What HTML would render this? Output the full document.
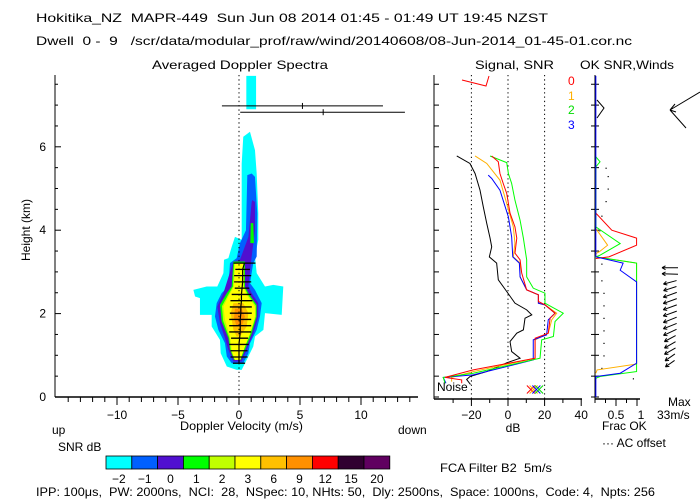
<!DOCTYPE html>
<html><head><meta charset="utf-8">
<style>
html,body{margin:0;padding:0;background:#fff;}
svg{display:block;font-family:"Liberation Sans",sans-serif;}
text{font-size:12px;fill:#000;white-space:pre;}
</style></head>
<body>
<svg id="chart" width="700" height="500" viewBox="0 0 700 500">
<text x="36" y="22" font-size="13" textLength="512" lengthAdjust="spacingAndGlyphs">Hokitika_NZ  MAPR-449  Sun Jun 08 2014 01:45 - 01:49 UT 19:45 NZST</text>
<text x="36" y="45" textLength="596" lengthAdjust="spacingAndGlyphs">Dwell  0 -  9   /scr/data/modular_prof/raw/wind/20140608/08-Jun-2014_01-45-01.cor.nc</text>
<text x="152" y="69" textLength="176" lengthAdjust="spacingAndGlyphs">Averaged Doppler Spectra</text>
<text x="475" y="69" textLength="79" lengthAdjust="spacingAndGlyphs">Signal, SNR</text>
<text x="580" y="69" textLength="94" lengthAdjust="spacingAndGlyphs">OK SNR,Winds</text>
<g id="spectra"></g>
<g id="snr"></g>
<g id="frac"></g>
<g id="cbar"></g>
<text x="30" y="230" transform="rotate(-90 30 230)" text-anchor="middle" font-size="11">Height (km)</text>
<text x="52" y="434">up</text>
<text x="180" y="430" textLength="123" lengthAdjust="spacingAndGlyphs">Doppler Velocity (m/s)</text>
<text x="398" y="434">down</text>
<text x="513" y="432" text-anchor="middle">dB</text>
<text x="602" y="430">Frac OK</text>
<text x="602" y="447">··· AC offset</text>
<text x="668" y="406">Max</text>
<text x="657" y="419">33m/s</text>
<text x="58" y="451">SNR dB</text>
<text x="440" y="472" textLength="112" lengthAdjust="spacingAndGlyphs">FCA Filter B2  5m/s</text>
<text x="36" y="496" textLength="619" lengthAdjust="spacingAndGlyphs">IPP: 100μs,  PW: 2000ns,  NCI:  28,  NSpec: 10, NHts: 50,  Dly: 2500ns,  Space: 1000ns,  Code: 4,  Npts: 256</text>
<text x="437" y="391" font-size="11">Noise</text>
<text x="568" y="85" style="fill:#ff0000" font-size="11">0</text>
<text x="568" y="100" style="fill:#ffb000" font-size="11">1</text>
<text x="568" y="114" style="fill:#00dd00" font-size="11">2</text>
<text x="568" y="129" style="fill:#0000ff" font-size="11">3</text>
</svg>
<script>
// ---------- data ----------
const velTicks = [-10,-5,0,5,10];
const hTicks = [0,2,4,6];
const dbTicks = [-20,0,20,40];
const fracTicks = [0.5,1];
const cbLabels = ["-2","-1","0","1","2","3","6","9","12","15","20"];
const cbColors = ["#00ffff","#0060ff","#5010d0","#00ff00","#c0ff00","#ffff00","#ffc000","#ff9000","#ff0000","#300030","#600060"];
// contour polygons: [velocity m/s, height km]
const cCyan = [[0.35,6.24],[0.22,5.6],[0.22,3.77],[-0.33,3.84],[-0.6,3.6],[-0.87,3.33],[-1.23,3.29],[-1.28,2.97],[-1.78,2.65],[-2.65,2.65],[-3.74,2.57],[-3.6,2.41],[-3.2,2.37],[-3.2,1.97],[-2.24,1.97],[-2.24,1.69],[-1.56,1.37],[-1.5,1.05],[-1.0,0.73],[-0.19,0.65],[0.22,0.65],[0.63,0.89],[1.17,1.21],[1.31,1.45],[2.0,1.61],[2.13,2.01],[3.5,1.97],[3.63,2.65],[2.81,2.69],[2.13,2.65],[1.45,2.97],[1.31,3.37],[1.58,3.77],[1.58,4.4],[1.45,5.36],[1.31,5.92],[0.9,6.36]];
const cCyanTop = [[0.6,6.9],[1.4,6.9],[1.4,7.7],[0.6,7.7]];
const cBlue = [[0.68,5.32],[0.57,4.0],[0.08,3.69],[-0.19,3.33],[-0.74,3.21],[-0.87,2.65],[-1.42,2.49],[-1.83,2.25],[-1.97,1.93],[-1.69,1.61],[-1.15,1.29],[-1.0,0.97],[-0.6,0.81],[0.35,0.81],[0.77,1.05],[0.9,1.29],[1.45,1.61],[1.72,1.93],[1.86,2.25],[1.31,2.57],[0.9,2.73],[1.17,3.21],[1.45,3.37],[1.5,4.4],[1.31,5.28],[1.04,5.36]];
const cPurple = [[1.04,4.68],[0.77,3.84],[0.08,3.29],[-0.46,3.25],[-1.28,2.49],[-1.78,2.17],[-1.56,1.77],[-1.15,1.41],[-0.87,1.13],[-0.46,0.85],[0.22,0.85],[0.63,1.13],[1.17,1.52],[1.58,1.93],[1.58,2.25],[1.04,2.49],[0.77,2.65],[1.04,3.37],[1.31,4.0],[1.31,4.68],[1.09,4.72]];
const cGreen = [[-0.46,3.25],[-0.6,2.65],[-1.0,2.49],[-1.56,2.21],[-1.42,1.81],[-0.87,1.41],[-0.74,1.13],[-0.41,0.89],[0.14,0.89],[0.49,1.13],[1.04,1.52],[1.45,1.93],[1.45,2.21],[0.77,2.49],[0.49,2.65],[0.49,3.25]];
const cGreenStreak = [[0.96,4.17],[1.17,4.17],[1.23,3.69],[0.93,3.69]];
const cYG = [[-0.4,3.22],[-0.5,2.65],[-0.95,2.42],[-1.4,2.18],[-1.3,1.83],[-0.8,1.42],[-0.68,1.13],[-0.37,0.9],[0.12,0.9],[0.45,1.18],[0.95,1.53],[1.38,1.93],[1.38,2.19],[0.7,2.47],[0.42,2.65],[0.42,3.22]];
const cYellow = [[-0.33,3.21],[-0.41,2.65],[-0.87,2.41],[-1.28,2.17],[-1.15,1.85],[-0.74,1.45],[-0.6,1.13],[-0.33,0.89],[0.08,0.89],[0.49,1.21],[0.9,1.52],[1.31,1.93],[1.31,2.17],[0.63,2.45],[0.35,2.65],[0.35,3.21]];
const cOrangeLt = [[-0.46,2.25],[-0.68,2.01],[-0.46,1.61],[-0.19,1.45],[0.08,1.45],[0.63,1.69],[0.77,2.01],[0.35,2.25]];
const cOrange = [[-0.33,2.12],[-0.41,1.89],[-0.19,1.69],[0.22,1.69],[0.49,1.93],[0.22,2.12]];
const cTickH = [3.21,3.06,2.91,2.76,2.61,2.46,2.31,2.16,2.01,1.86,1.71,1.56,1.41,1.26,1.11,0.96,0.81];
const cTickC = [0.45,0.3,0.3,0.3,0.25,0.2,0.2,0.15,0.15,0.1,0.1,0.1,0.05,0.0,0.0,0.0,0.0];
const cTickW = [0.9,0.6,0.7,0.7,0.6,0.8,0.9,0.9,0.9,0.9,0.9,0.9,0.7,0.8,0.7,0.7,0.5];
const errH = [6.98,6.83];
const errLo = [-1.4,0.1];
const errHi = [11.8,13.6];
const errMid = [5.2,6.9];
// SNR profiles: [dB, height km]
const snrNoise = [[-28.0,5.78],[-20.8,5.6],[-18.0,5.36],[-15.3,4.96],[-13.5,4.56],[-11.6,4.16],[-9.8,3.81],[-8.9,3.6],[-10.2,3.36],[-6.2,3.21],[-5.3,2.81],[-0.7,2.53],[3.8,2.25],[10.2,2.09],[13.0,1.97],[9.3,1.89],[8.4,1.61],[4.8,1.53],[1.1,1.33],[2.0,1.09],[6.6,0.93],[-0.7,0.82],[-11.6,0.61],[-20.8,0.49],[-22.6,0.42],[-20.5,0.3]];
const snr0 = [[-8.9,5.78],[-5.3,5.64],[-4.4,5.36],[-2.6,5.12],[-0.7,4.88],[1.1,4.41],[3.8,4.08],[4.8,3.81],[3.8,3.45],[6.6,3.29],[7.5,2.97],[10.2,2.57],[16.6,2.45],[16.6,2.29],[20.2,2.21],[25.7,2.01],[23.0,1.89],[22.0,1.53],[14.8,1.41],[14.8,0.93],[-19.0,0.65],[-34.4,0.47],[-25.3,0.41],[-25.3,0.33]];
const snr1 = [[-18.0,5.78],[-11.6,5.6],[-4.4,5.2],[-0.7,4.64],[2.9,4.08],[3.8,3.69],[2.9,3.36],[6.6,3.21],[6.6,2.88],[10.2,2.57],[16.6,2.45],[16.6,2.25],[20.2,2.21],[26.6,2.01],[23.9,1.85],[22.0,1.53],[14.8,1.37],[14.8,0.93],[-19.0,0.61],[-30.8,0.47],[-30.8,0.37]];
const snr2 = [[-9.8,5.78],[-0.7,5.62],[0.2,5.36],[2.0,5.12],[3.8,4.72],[6.6,4.24],[8.4,3.81],[10.2,3.29],[10.2,2.88],[13.8,2.61],[20.2,2.49],[20.2,2.25],[30.2,2.01],[25.7,1.81],[24.8,1.45],[18.4,1.37],[17.5,0.93],[-19.0,0.57],[-35.4,0.47],[-34.4,0.33]];
const snr3 = [[-10.8,5.32],[-8.9,5.24],[-4.4,4.96],[0.2,4.32],[2.0,3.84],[2.6,3.36],[6.2,3.21],[6.6,2.88],[10.2,2.57],[16.6,2.45],[16.6,2.25],[20.2,2.21],[25.7,2.01],[22.0,1.85],[21.1,1.49],[13.8,1.37],[13.8,0.89],[-19.0,0.53],[-35.4,0.47],[-33.9,0.33]];
const snrXdb = [12.5,14,15.5,17];
// frac OK profiles: [fraction, height km]
const frac0 = [[0.02,4.41],[0.4,4.0],[0.99,3.81],[0.99,3.64],[0.33,3.36],[0.02,3.32]];
const frac1 = [[0.02,4.04],[0.3,3.64],[0.1,3.48],[0.02,3.44],[0.02,3.36],[0.99,3.21],[0.99,0.79],[0.05,0.65],[0.02,0.57]];
const frac2 = [[0.02,5.76],[0.12,5.64],[0.02,5.52],[0.02,4.08],[0.6,3.68],[0.12,3.40],[0.02,3.36],[0.99,3.21],[0.99,0.61],[0.12,0.49],[0.02,0.45]];
const frac3 = [[0.02,7.7],[0.02,3.36],[0.67,3.21],[0.6,3.04],[0.99,2.76],[0.99,0.81],[0.6,0.57],[0.02,0.49],[0.02,0.0]];
const acOff = [[0.25,5.5],[0.3,5.3],[0.3,5.0],[0.25,4.7],[0.15,4.35],[0.1,4.0],[0.15,3.2],[0.15,2.8],[0.2,2.5],[0.2,2.2],[0.2,1.9],[0.2,1.6],[0.2,1.3],[0.2,1.0],[0.15,0.7],[0.9,0.45]];
// winds: height km, direction angle (deg, screen coords, 180 = pointing left, <180 = down-left), relative length
const windH = [3.1,2.95,2.75,2.6,2.45,2.3,2.15,2.0,1.85,1.7,1.55,1.4,1.25,1.1,0.95,0.8];
const windA = [180,182,165,162,160,160,160,160,158,158,155,152,150,150,145,145];
const windL = [1.0,1.0,0.85,0.85,0.9,0.9,0.9,0.9,0.9,0.9,0.9,0.8,0.8,0.8,0.75,0.7];

// ---------- helpers ----------
const NS = "http://www.w3.org/2000/svg";
function mk(parent, tag, attrs){ const e=document.createElementNS(NS,tag); for(const k in attrs) e.setAttribute(k,attrs[k]); parent.appendChild(e); return e; }
const xV = v => 239 + v*12.2;
const yH = h => 397 - h*41.7;
const xDB = d => 508 + d*1.83;
const xF = f => 595 + f*42;

// ---------- spectra panel ----------
const sp = document.getElementById('spectra');
const polys = [[cCyan,"#00ffff","contour-minus2"],[cCyanTop,"#00ffff","contour-minus2-top"],[cBlue,"#0060ff","contour-minus1"],[cPurple,"#5010d0","contour-0"],[cGreen,"#00ff00","contour-1"],[cGreenStreak,"#00ff00","contour-1-streak"],[cYG,"#c0ff00","contour-2"],[cYellow,"#ffff00","contour-3"],[cOrangeLt,"#ffc000","contour-6"],[cOrange,"#ff9000","contour-9"]];
polys.forEach(p=>{
  const e = mk(sp,'polygon',{points:p[0].map(q=>xV(q[0])+','+yH(q[1])).join(' '),fill:p[1]});
  
  
});
let e = mk(sp,'line',{x1:xV(0),y1:75,x2:xV(0),y2:397,stroke:'#000','stroke-dasharray':'1.3 3'});


let vp = cTickH.map((h,i)=>xV(cTickC[i])+','+yH(h)).join(' ');
e = mk(sp,'polyline',{points:vp,fill:'none',stroke:'#000','stroke-width':1.2});


cTickH.forEach((h,i)=>{
  const t = mk(sp,'line',{x1:xV(cTickC[i]-cTickW[i]),x2:xV(cTickC[i]+cTickW[i]),y1:yH(h),y2:yH(h),stroke:'#000','stroke-width':1.3});
  
  
});
errH.forEach((h,i)=>{
  const l = mk(sp,'line',{x1:xV(errLo[i]),x2:xV(errHi[i]),y1:yH(h),y2:yH(h),stroke:'#000'});
  
  
  const m = mk(sp,'line',{x1:xV(errMid[i]),x2:xV(errMid[i]),y1:yH(h)-3,y2:yH(h)+3,stroke:'#000'});
  
  
});
e = mk(sp,'line',{x1:55,y1:75,x2:55,y2:397,stroke:'#000'});


e = mk(sp,'line',{x1:55,y1:397,x2:418,y2:397,stroke:'#000','stroke-width':1.5});


for(let v=-14; v<=14; v++){
  const t = mk(sp,'line',{x1:xV(v),x2:xV(v),y1:397,y2:v%5===0?405:402,stroke:'#000'});
  
  
}
velTicks.forEach(v=>{
  const t = mk(sp,'text',{x:xV(v),y:419,'text-anchor':'middle'}); t.textContent = v===0?'0':(v<0?'−'+(-v):String(v));
  
  
});
for(let h=0; h<=7.5; h+=0.5){
  const t = mk(sp,'line',{x1:55,x2:h%2===0?61:58,y1:yH(h),y2:yH(h),stroke:'#000'});
  
  
}
hTicks.forEach(h=>{
  const t = mk(sp,'text',{x:46,y:yH(h)+4,'text-anchor':'end'}); t.textContent = h;
  
  
});

// ---------- SNR panel ----------
const sn = document.getElementById('snr');
e = mk(sn,'line',{x1:434,y1:75,x2:434,y2:399,stroke:'#000'});


e = mk(sn,'line',{x1:434,y1:399,x2:582,y2:399,stroke:'#000','stroke-width':1.5});


for(let h=0; h<=7.5; h+=0.5){
  const t = mk(sn,'line',{x1:434,x2:439,y1:yH(h),y2:yH(h),stroke:'#000'});
  
  
}
for(let d=-30; d<=40; d+=10){
  const t = mk(sn,'line',{x1:xDB(d),x2:xDB(d),y1:399,y2:d%20===0?406:403,stroke:'#000'});
  
  
}
dbTicks.forEach(d=>{
  const t = mk(sn,'text',{x:xDB(d),y:419,'text-anchor':'middle'}); t.textContent = d<0?'−'+(-d):String(d);
  
  
  if(d<40){
    const g = mk(sn,'line',{x1:xDB(d),x2:xDB(d),y1:75,y2:399,stroke:'#000','stroke-dasharray':'1.3 3'});
    
    
  }
});
[[snrNoise,'#000','snr-noise-line'],[snr1,'#ffb000','snr-ch1-line'],[snr3,'#0000ff','snr-ch3-line'],[snr2,'#00ff00','snr-ch2-line'],[snr0,'#ff0000','snr-ch0-line']].forEach(s=>{
  const l = mk(sn,'polyline',{points:s[0].map(q=>xDB(q[0])+','+yH(q[1])).join(' '),fill:'none',stroke:s[1]});
  
  
});
['#ff0000','#ffb000','#0000ff','#00dd00'].forEach((c,i)=>{
  const x = xDB(snrXdb[i]), y = yH(0.18);
  const g = mk(sn,'path',{d:`M${x-4},${y-4}L${x+4},${y+4}M${x-4},${y+4}L${x+4},${y-4}`,stroke:c,fill:'none'});
  
  
});
e = mk(sn,'path',{d:'M462,80L486,86L489,76',stroke:'#ff0000',fill:'none'});



// ---------- Frac OK / winds panel ----------
const fr = document.getElementById('frac');
e = mk(fr,'line',{x1:595,y1:75,x2:595,y2:399,stroke:'#000'});


e = mk(fr,'line',{x1:595,y1:399,x2:640,y2:399,stroke:'#000','stroke-width':1.5});


for(let h=0; h<=7.5; h+=0.5){
  const t = mk(fr,'line',{x1:591,x2:599,y1:yH(h),y2:yH(h),stroke:'#000'});
  
  
}
for(let f=0; f<=1.001; f+=0.25){
  const t = mk(fr,'line',{x1:xF(f),x2:xF(f),y1:399,y2:f===0.5||f>0.99?406:403,stroke:'#000'});
  
  
}
fracTicks.forEach(f=>{
  const t = mk(fr,'text',{x:xF(f)+(f===1?4:0),y:419,'text-anchor':'middle'}); t.textContent = String(f);
  
  
});
acOff.forEach(q=>{
  const d = mk(fr,'rect',{x:xF(q[0]),y:yH(q[1]),width:1.2,height:1.2,fill:'#000'});
  
  
});
[[frac1,'#ffb000','frac-ch1-line'],[frac2,'#00ff00','frac-ch2-line'],[frac0,'#ff0000','frac-ch0-line'],[frac3,'#0000ff','frac-ch3-line']].forEach(s=>{
  const l = mk(fr,'polyline',{points:s[0].map(q=>xF(q[0])+','+yH(q[1])).join(' '),fill:'none',stroke:s[1]});
  
  
});
e = mk(fr,'path',{d:'M597,100L604,108L597,118',stroke:'#000',fill:'none'});


windH.forEach((h,i)=>{
  const a = windA[i]*Math.PI/180, L = 16*windL[i];
  const x0 = 670 - Math.cos(a)*L/2, y0 = yH(h) - Math.sin(a)*L/2;
  const x1 = x0 + Math.cos(a)*L, y1 = y0 + Math.sin(a)*L;
  const b1 = a+Math.PI-0.5, b2 = a+Math.PI+0.5;
  const w = mk(fr,'path',{d:`M${x0},${y0}L${x1},${y1}M${x1},${y1}L${x1+4*Math.cos(b1)},${y1+4*Math.sin(b1)}M${x1},${y1}L${x1+4*Math.cos(b2)},${y1+4*Math.sin(b2)}`,stroke:'#000',fill:'none'});
  
  
});
e = mk(fr,'path',{d:'M670,110L700,92M670,110L686,128M670,110L675,104M670,110L676,112',stroke:'#000',fill:'none'});



// ---------- colorbar ----------
const cb = document.getElementById('cbar');
const cbW = 25.8;
cbColors.forEach((c,i)=>{
  const r = mk(cb,'rect',{x:106+i*cbW,y:456,width:cbW,height:13,fill:c,stroke:'#000','stroke-width':0.8});
  
  
  const t = mk(cb,'text',{x:106+i*cbW+cbW/2,y:483,'text-anchor':'middle'}); t.textContent = cbLabels[i].replace('-','−');
  
  
});
</script>
</body></html>
